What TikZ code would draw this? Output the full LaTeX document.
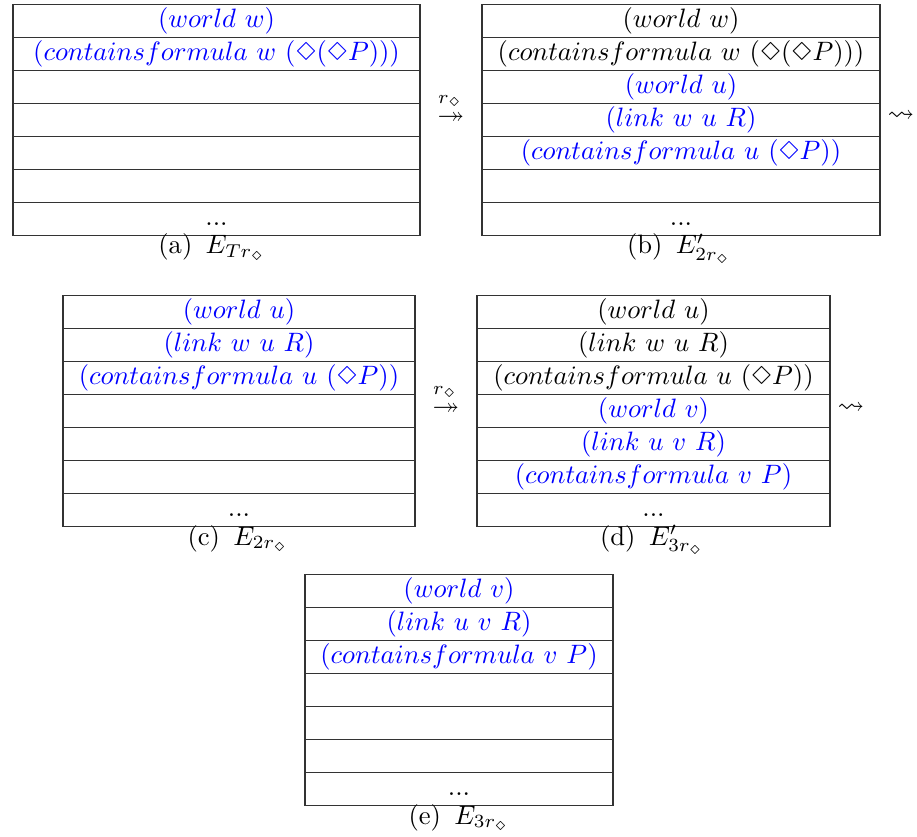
\documentclass[tikz,border=0pt]{standalone}
\usepackage{amsmath,amssymb}
\usepackage{latexsym}
\usepackage{xcolor}
\usetikzlibrary{positioning}
\definecolor{newc}{HTML}{0000FF}
\definecolor{oldc}{HTML}{000000}
\definecolor{linec}{HTML}{333333}
\newcommand{\pxu}{0.376pt}
\tikzset{
  cell/.style={draw=linec,line width=0.5pt,minimum height=33*\pxu,inner sep=0pt,text height=7.5pt,text depth=2.5pt,anchor=north},
  subcap/.style={anchor=base,inner sep=0pt},
  tr/.style={inner sep=0pt,text height=3pt,text depth=0pt},
  trlab/.style={inner sep=0pt,font=\scriptsize}
}

\begin{document}
\begin{tikzpicture}[x=\pxu,y=-\pxu]
\useasboundingbox (0,0) rectangle (917,837);
\foreach \t/\c [count=\i] in {{$(world\ w)$}/newc,{$(containsformula\ w\ (\Diamond(\Diamond P)))$}/newc,{}/oldc,{}/oldc,{}/oldc,{}/oldc,{...}/oldc}
  \node[cell,minimum width=407*\pxu,text=\c] (a\i) at (216.5,{4+33*(\i-1)}) {\t};
\node[subcap] (capa) at (212,254) {(a)\enspace$E_{Tr_{\Diamond}}$};
\node[tr] (ab) at (451,120) {$\twoheadrightarrow$};
\node[trlab] (labab) at (450,101) {$r_{\Diamond}$};
\foreach \t/\c [count=\i] in {{$(world\ w)$}/oldc,{$(containsformula\ w\ (\Diamond(\Diamond P)))$}/oldc,{$(world\ u)$}/newc,{$(link\ w\ u\ R)$}/newc,{$(containsformula\ u\ (\Diamond P))$}/newc,{}/oldc,{...}/oldc}
  \node[cell,minimum width=398*\pxu,text=\c] (b\i) at (681,{4+33*(\i-1)}) {\t};
\node[subcap] (capb) at (679,254) {(b)\enspace$E'_{2r_{\Diamond}}$};
\node[tr] (bc) at (901,118) {$\rightsquigarrow$};
\foreach \t/\c [count=\i] in {{$(world\ u)$}/newc,{$(link\ w\ u\ R)$}/newc,{$(containsformula\ u\ (\Diamond P))$}/newc,{}/oldc,{}/oldc,{}/oldc,{...}/oldc}
  \node[cell,minimum width=352*\pxu,text=\c] (c\i) at (239,{295+33*(\i-1)}) {\t};
\node[subcap] (capc) at (238,545) {(c)\enspace$E_{2r_{\Diamond}}$};
\node[tr] (cd) at (446,411) {$\twoheadrightarrow$};
\node[trlab] (labcd) at (445,392) {$r_{\Diamond}$};
\foreach \t/\c [count=\i] in {{$(world\ u)$}/oldc,{$(link\ w\ u\ R)$}/oldc,{$(containsformula\ u\ (\Diamond P))$}/oldc,{$(world\ v)$}/newc,{$(link\ u\ v\ R)$}/newc,{$(containsformula\ v\ P)$}/newc,{...}/oldc}
  \node[cell,minimum width=353*\pxu,text=\c] (d\i) at (653.5,{295+33*(\i-1)}) {\t};
\node[subcap] (capd) at (652,545) {(d)\enspace$E'_{3r_{\Diamond}}$};
\node[tr] (de) at (851,410) {$\rightsquigarrow$};
\foreach \t/\c [count=\i] in {{$(world\ v)$}/newc,{$(link\ u\ v\ R)$}/newc,{$(containsformula\ v\ P)$}/newc,{}/oldc,{}/oldc,{}/oldc,{...}/oldc}
  \node[cell,minimum width=308*\pxu,text=\c] (e\i) at (459,{574+33*(\i-1)}) {\t};
\node[subcap] (cape) at (459,824) {(e)\enspace$E_{3r_{\Diamond}}$};
\end{tikzpicture}
\end{document}
